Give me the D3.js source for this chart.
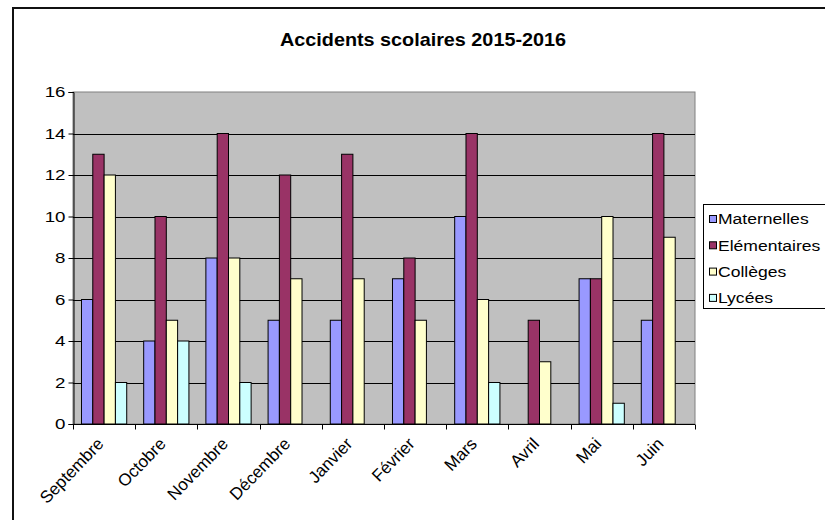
<!DOCTYPE html>
<html>
<head>
<meta charset="utf-8">
<script src="https://cdn.jsdelivr.net/npm/d3@7"></script>
<style>
  html, body { margin: 0; padding: 0; background: #fff; }
  svg { display: block; font-family: "Liberation Sans", Arial, sans-serif; }
</style>
</head>
<body>
<svg id="chart" width="825" height="520"></svg>
<script>
// Accidents by month and school level
const months = ["Septembre", "Octobre", "Novembre", "Décembre", "Janvier", "Février", "Mars", "Avril", "Mai", "Juin"];
const seriesNames = ["Maternelles", "Elémentaires", "Collèges", "Lycées"];
const maternelles = [6, 4, 8, 5, 5, 7, 10, 0, 7, 5];
const elementaires = [13, 10, 14, 12, 13, 8, 14, 5, 7, 14];
const colleges = [12, 5, 8, 7, 7, 5, 6, 3, 10, 9];
const lycees = [2, 4, 2, 0, 0, 0, 2, 0, 1, 0];
const yTicks = [0, 2, 4, 6, 8, 10, 12, 14, 16];
const colors = ["#9999FF", "#993366", "#FFFFCC", "#CCFFFF"];

const seriesValues = [maternelles, elementaires, colleges, lycees];

const svg = d3.select("#chart");

// chart frame
svg.append("rect")
  .attr("x", 13).attr("y", 8).attr("width", 900).attr("height", 600)
  .attr("fill", "#fff").attr("stroke", "#111").attr("stroke-width", 2);

const plot = { left: 73, right: 695, top: 92, bottom: 424 };

const x = d3.scaleBand().domain(months).range([plot.left, plot.right]).padding(0);
const step = x.bandwidth();
const barW = step / 5.5;
const xs = d3.scaleBand().domain(seriesNames)
  .range([barW * 0.75, step - barW * 0.75]).padding(0);
const y = d3.scaleLinear().domain([0, 16]).range([plot.bottom, plot.top]);

// plot background
svg.append("rect")
  .attr("x", plot.left).attr("y", plot.top)
  .attr("width", plot.right - plot.left).attr("height", plot.bottom - plot.top)
  .attr("fill", "#C0C0C0").attr("stroke", "#808080").attr("stroke-width", 1);

// horizontal gridlines
svg.append("g").selectAll("line")
  .data(yTicks.filter(d => d > 0 && d < 16))
  .join("line")
  .attr("x1", plot.left).attr("x2", plot.right)
  .attr("y1", d => Math.round(y(d)) + 0.5).attr("y2", d => Math.round(y(d)) + 0.5)
  .attr("stroke", "#000").attr("stroke-width", 1);

// bars
const groups = svg.append("g").selectAll("g")
  .data(seriesNames)
  .join("g")
  .attr("fill", (d, i) => colors[i]);

groups.selectAll("rect")
  .data((name, si) => seriesValues[si].map((v, mi) => ({ name, v, month: months[mi] })))
  .join("rect")
  .filter(d => d.v > 0)
  .attr("x", d => x(d.month) + xs(d.name))
  .attr("y", d => y(d.v))
  .attr("width", xs.bandwidth())
  .attr("height", d => y(0) - y(d.v))
  .attr("stroke", "#000").attr("stroke-width", 1);

// y axis
const yAxis = d3.axisLeft(y).tickValues(yTicks).tickSize(5).tickPadding(3);
const gy = svg.append("g")
  .attr("transform", `translate(${plot.left + 0.5},0)`)
  .call(yAxis);
gy.select(".domain").attr("stroke", "#000");
gy.selectAll(".tick line").attr("stroke", "#000");
gy.selectAll(".tick text")
  .attr("x", 0)
  .attr("transform", "translate(-8,0) scale(1.25,1)")
  .attr("font-size", 15).attr("fill", "#000")
  .attr("font-family", "'Liberation Sans', Arial, sans-serif");

// x axis with ticks at category boundaries
const gx = svg.append("g")
  .attr("transform", `translate(0,${plot.bottom + 0.5})`);
gx.append("line")
  .attr("x1", plot.left).attr("x2", plot.right)
  .attr("stroke", "#000");
const boundaries = months.map(m => x(m)).concat([plot.right]);
gx.selectAll("line.tick")
  .data(boundaries)
  .join("line").attr("class", "tick")
  .attr("x1", d => Math.round(d) + 0.5).attr("x2", d => Math.round(d) + 0.5)
  .attr("y1", 0).attr("y2", 5)
  .attr("stroke", "#000");
gx.selectAll("text")
  .data(months)
  .join("text")
  .attr("transform", d => `translate(${x(d) + step / 2 - 8},${12}) rotate(-46)`)
  .attr("text-anchor", "end")
  .attr("dy", "0.7em")
  .attr("font-size", 17)
  .attr("fill", "#000")
  .text(d => d);

// title
svg.append("text")
  .attr("transform", "translate(423,46) scale(1.1,1)")
  .attr("text-anchor", "middle")
  .attr("font-size", 18).attr("font-weight", "bold")
  .attr("fill", "#000")
  .text("Accidents scolaires 2015-2016");

// legend
const legend = svg.append("g");
legend.append("rect")
  .attr("x", 703.5).attr("y", 204.5).attr("width", 140).attr("height", 104)
  .attr("fill", "#fff").attr("stroke", "#000").attr("stroke-width", 1);
const items = legend.selectAll("g.item")
  .data(seriesNames)
  .join("g").attr("class", "item")
  .attr("transform", (d, i) => `translate(709,${219 + i * 26.3})`);
items.append("rect")
  .attr("x", 0.5).attr("y", -3.5).attr("width", 7).attr("height", 7)
  .attr("fill", (d, i) => colors[i]).attr("stroke", "#000");
items.append("text")
  .attr("transform", "translate(9,0) scale(1.17,1)")
  .attr("dy", "0.36em")
  .attr("font-size", 15).attr("fill", "#000")
  .text(d => d);
</script>
</body>
</html>
